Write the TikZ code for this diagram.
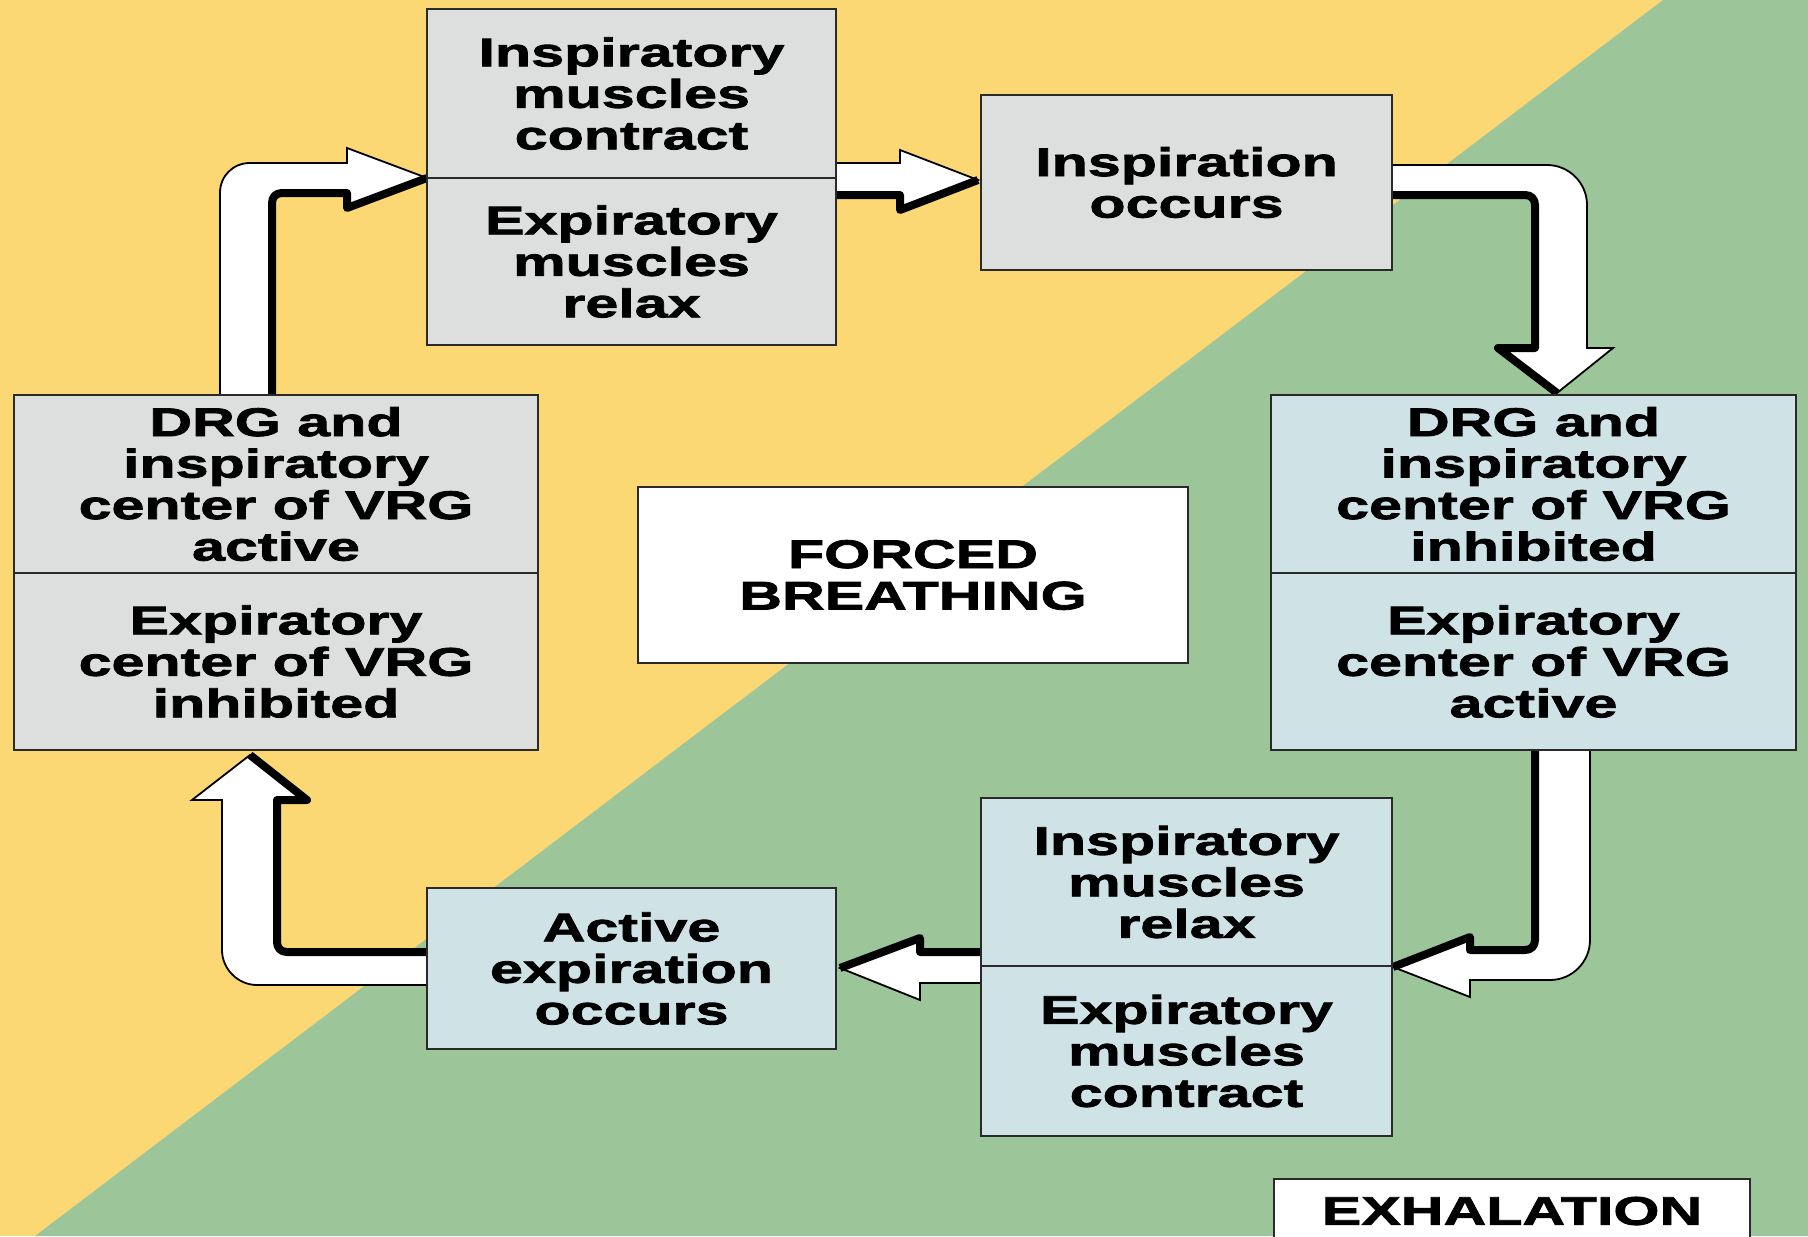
\documentclass[tikz,border=0pt]{standalone}
\usepackage{fontspec}
\newfontfamily\lblfont[FakeStretch=1.48,BoldFeatures={FakeStretch=1.48,FakeBold=2}]{Liberation Sans}
\newcommand\lbl{\lblfont\bfseries\fontsize{20pt}{20.75pt}\selectfont}
\definecolor{bgyellow}{HTML}{FCD874}
\definecolor{bggreen}{HTML}{9CC59A}
\definecolor{boxgray}{HTML}{DCDFDD}
\definecolor{boxblue}{HTML}{CFE3E7}
\definecolor{edge}{HTML}{2A2A2A}
\tikzset{
  half/.style={draw=edge, line width=1.2pt, align=center, font=\lbl, inner sep=0pt},
  grayb/.style={half, fill=boxgray},
  blueb/.style={half, fill=boxblue},
  whiteb/.style={half, fill=white},
  fat/.style={fill=white, draw=black, line width=0.9pt, line join=miter},
  shade/.style={draw=black, line width=4pt, line join=round, line cap=butt}
}
\begin{document}
\begin{tikzpicture}[x=0.5pt,y=-0.5pt]
\useasboundingbox (0,0) rectangle (1808,1236);
% background
\fill[bgyellow] (0,0) rectangle (1808,1236);
\fill[bggreen] (1663,0) -- (1808,0) -- (1808,1236) -- (35,1236) -- cycle;

% arrows
% 1: F -> A
\filldraw[fat] (220,395) -- (220,193) .. controls (220,176) and (233,163) .. (250,163) -- (347,163) -- (347,148) -- (427,178) -- (347,208) -- (347,193) -- (282,193) .. controls (276,193) and (272,197) .. (272,203) -- (272,395) -- cycle;
\draw[shade] (272,395) -- (272,203) .. controls (272,197) and (276,193) .. (282,193) -- (347,193) -- (347,208) -- (427,178);
% 2: A -> B
\filldraw[fat] (836,163) -- (900,163) -- (900,150) -- (978,180) -- (900,210) -- (900,195) -- (836,195) -- cycle;
\draw[shade] (836,195) -- (900,195) -- (900,210) -- (978,180);
% 3: B -> C
\filldraw[fat] (1392,165) -- (1547,165) .. controls (1569,165) and (1587,183) .. (1587,205) -- (1587,348) -- (1613,348) -- (1557,393) -- (1498,348) -- (1535,348) -- (1535,205) .. controls (1535,199) and (1531,195) .. (1525,195) -- (1392,195) -- cycle;
\draw[shade] (1392,195) -- (1525,195) .. controls (1531,195) and (1535,199) .. (1535,205) -- (1535,348) -- (1498,348) -- (1557,393);
% 4: C -> D
\filldraw[fat] (1535,750) -- (1590,750) -- (1590,940) .. controls (1590,962) and (1572,980) .. (1550,980) -- (1470,980) -- (1470,997) -- (1393,967) -- (1470,937) -- (1470,950) -- (1525,950) .. controls (1531,950) and (1535,946) .. (1535,940) -- cycle;
\draw[shade] (1535,750) -- (1535,940) .. controls (1535,946) and (1531,950) .. (1525,950) -- (1470,950) -- (1470,937) -- (1393,967);
% 5: D -> E
\filldraw[fat] (981,952) -- (920,952) -- (920,938) -- (840,968) -- (920,1000) -- (920,983) -- (981,983) -- cycle;
\draw[shade] (981,952) -- (920,952) -- (920,938) -- (840,968);
% 6: E -> F
\filldraw[fat] (427,985) -- (257,985) .. controls (238,985) and (222,969) .. (222,950) -- (222,800) -- (192,800) -- (250,755) -- (307,800) -- (277,800) -- (277,942) .. controls (277,948) and (281,952) .. (287,952) -- (427,952) -- cycle;
\draw[shade] (427,952) -- (287,952) .. controls (281,952) and (277,948) .. (277,942) -- (277,800) -- (307,800) -- (250,755);

% boxes
\node[grayb, minimum width=204.5pt, minimum height=84.5pt] (Atop) at (631.5,93.5) {Inspiratory\\muscles\\contract};
\node[grayb, minimum width=204.5pt, minimum height=83.5pt] (Abot) at (631.5,261.5) {Expiratory\\muscles\\relax};
\node[grayb, minimum width=205.5pt, minimum height=87.5pt] (B) at (1186.5,182.5) {Inspiration\\occurs};
\node[blueb, minimum width=262.5pt, minimum height=89pt] (Ctop) at (1533.5,484) {DRG and\\inspiratory\\center of VRG\\inhibited};
\node[blueb, minimum width=262.5pt, minimum height=88.5pt] (Cbot) at (1533.5,661.5) {Expiratory\\center of VRG\\active};
\node[blueb, minimum width=205.5pt, minimum height=84pt] (Dtop) at (1186.5,882) {Inspiratory\\muscles\\relax};
\node[blueb, minimum width=205.5pt, minimum height=85pt] (Dbot) at (1186.5,1051) {Expiratory\\muscles\\contract};
\node[blueb, minimum width=204.5pt, minimum height=80.5pt] (E) at (631.5,968.5) {Active\\expiration\\occurs};
\node[grayb, minimum width=262pt, minimum height=89pt] (Ftop) at (276,484) {DRG and\\inspiratory\\center of VRG\\active};
\node[grayb, minimum width=262pt, minimum height=88.5pt] (Fbot) at (276,661.5) {Expiratory\\center of VRG\\inhibited};
\node[whiteb, minimum width=275pt, minimum height=88pt] (FB) at (913,575) {FORCED\\BREATHING};
\node[whiteb, minimum width=238pt, minimum height=32pt] (EX) at (1512,1211) {EXHALATION};
\end{tikzpicture}
\end{document}
